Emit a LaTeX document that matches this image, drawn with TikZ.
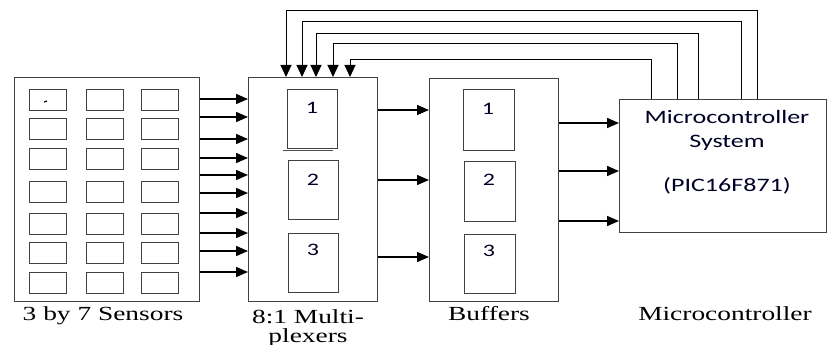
\documentclass[tikz,border=0pt]{standalone}
\usepackage{fontspec}
\usepackage{graphicx}
\setmainfont{Liberation Serif}
\newfontfamily\calfont{Carlito}
\usetikzlibrary{arrows.meta}
\newcommand\sx[1]{\scalebox{1.37}[1]{#1}}
\tikzset{
  box/.style={draw=black!75, line width=1pt, inner sep=0pt, anchor=north west},
  arr/.style={draw=black, line width=1.5pt, -{Triangle[length=12pt,width=10pt]}},
  fb/.style={draw=black, line width=1pt, -{Triangle[length=12pt,width=11pt]}},
  lbl/.style={font=\fontsize{20}{22}\selectfont, anchor=base, inner sep=0pt},
  num/.style={font=\calfont\fontsize{17.5}{19}\selectfont, inner sep=0pt, text=black!85!blue},
  mtxt/.style={font=\calfont\fontsize{19}{21}\selectfont, inner sep=0pt, text=black!85!blue}
}
\begin{document}
\begin{tikzpicture}[x=1pt,y=-1pt]
\useasboundingbox (0,0) rectangle (827,345);
% main boxes
\node[box, minimum width=185pt, minimum height=224pt] (sens) at (14,77) {};
\node[box, minimum width=129pt, minimum height=224pt] (mux) at (248,77) {};
\node[box, minimum width=129pt, minimum height=223pt] (buf) at (429,78) {};
\node[box, minimum width=207pt, minimum height=133pt] (micro) at (619,99) {};
% sensor cells
\foreach \cx [count=\i] in {29,86,141}{
  \foreach \cy [count=\j] in {89,118,148,181,213,242,272}{
    \node[box, minimum width=37pt, minimum height=21pt] (c\i\j) at (\cx,\cy) {};
  }
}
\draw[line width=1.2pt] (c11.center) ++(-4,2) -- ++(3,-1);
% mux inner boxes
\node[box, minimum width=50pt, minimum height=59pt] (m1) at (287,89) {};
\node[box, minimum width=50pt, minimum height=59pt] (m2) at (288,160) {};
\node[box, minimum width=50pt, minimum height=59pt] (m3) at (288,233) {};
\draw[black!70, line width=1.3pt] (m1.south west) ++(-4,1.5) -- ++(50,0);
\node[num] (m1t) at (312,108) {\sx{1}};
\node[num] (m2t) at (313,180) {\sx{2}};
\node[num] (m3t) at (313,250) {\sx{3}};
% buffer inner boxes
\node[box, minimum width=51pt, minimum height=61pt] (b1) at (463,89) {};
\node[box, minimum width=51pt, minimum height=60pt] (b2) at (464,161) {};
\node[box, minimum width=51pt, minimum height=59pt] (b3) at (464,234) {};
\node[num] (b1t) at (488,109) {\sx{1}};
\node[num] (b2t) at (489,180) {\sx{2}};
\node[num] (b3t) at (489,251) {\sx{3}};
% micro text
\node[mtxt] (mt1) at (727,117) {\sx{Microcontroller}};
\node[mtxt] (mt2) at (727,143) {\sx{System}};
\node[mtxt] (mt3) at (727,186) {\sx{(PIC16F871)}};
% labels
\node[lbl] (l1) at (103,320) {\sx{3 by 7 Sensors}};
\node[lbl] (l2) at (308,323) {\sx{8:1 Multi-}};
\node[lbl] (l3) at (308,342) {\sx{plexers}};
\node[lbl] (l4) at (489,320) {\sx{Buffers}};
\node[lbl] (l5) at (725,320) {\sx{Microcontroller}};
% arrows sensors -> mux
\foreach \y in {99,117,139,158,175,193,213,233,251,272}{
  \draw[arr] (sens.east |- 0,\y) -- (mux.west |- 0,\y);
}
% mux -> buffers
\foreach \y in {110,180,257}{
  \draw[arr] (mux.east |- 0,\y) -- (buf.west |- 0,\y);
}
% buffers -> micro
\foreach \y in {123,171,221}{
  \draw[arr] (buf.east |- 0,\y) -- (micro.west |- 0,\y);
}
% feedback
\foreach \a/\b/\h in {651/350/60, 677/333/44, 698/316/34, 741/302/22, 757/286/11}{
  \draw[fb] (micro.north -| \a,0) |- (\b,\h) -- (mux.north -| \b,0);
}
\end{tikzpicture}
\end{document}
